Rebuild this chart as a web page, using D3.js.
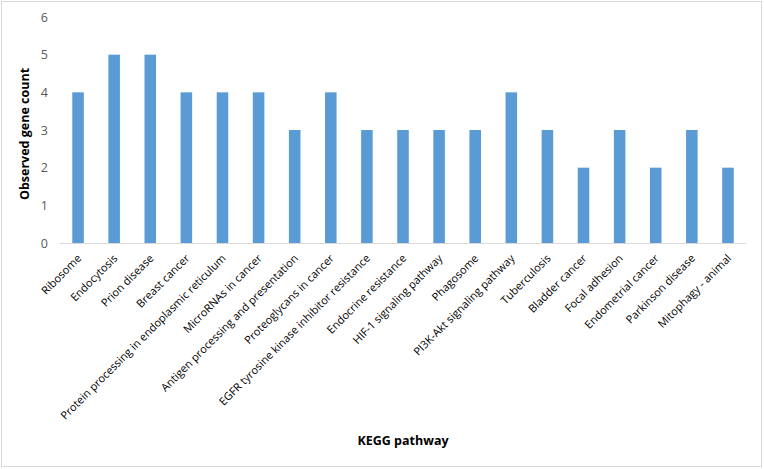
<!DOCTYPE html>
<html>
<head>
<meta charset="utf-8">
<script src="https://cdn.jsdelivr.net/npm/d3@7"></script>
<style>
  body { margin: 0; background: #fff; }
  text { font-family: "Open Sans", "Liberation Sans", sans-serif; }
</style>
</head>
<body>
<svg id="chart"></svg>
<script>
// KEGG pathways and how many observed genes fall in each
var pathways = ["Ribosome", "Endocytosis", "Prion disease", "Breast cancer",
  "Protein processing in endoplasmic reticulum", "MicroRNAs in cancer",
  "Antigen processing and presentation", "Proteoglycans in cancer",
  "EGFR tyrosine kinase inhibitor resistance", "Endocrine resistance",
  "HIF-1 signaling pathway", "Phagosome", "PI3K-Akt signaling pathway",
  "Tuberculosis", "Bladder cancer", "Focal adhesion", "Endometrial cancer",
  "Parkinson disease", "Mitophagy - animal"]
var geneCounts = [4, 5, 5, 4, 4, 4, 3, 4, 3, 3, 3, 3, 4, 3, 2, 3, 2, 3, 2]
var yTicks = [0, 1, 2, 3, 4, 5, 6]

var width = 764, height = 469
var plot = { left: 60, right: 746, top: 17, bottom: 243 }

var svg = d3.select("#chart")
  .attr("width", width)
  .attr("height", height)

// outer chart frame
svg.append("rect")
  .attr("x", 1.5).attr("y", 1.5)
  .attr("width", width - 4).attr("height", height - 4)
  .attr("fill", "#fff")
  .attr("stroke", "#d9d9d9")

var x = d3.scaleBand()
  .domain(pathways)
  .range([plot.left, plot.right])
  .paddingInner(0.68)
  .paddingOuter(0.34)

var y = d3.scaleLinear()
  .domain([0, 6])
  .range([plot.bottom, plot.top])

var data = pathways.map(function(p, i) { return { name: p, value: geneCounts[i] } })

svg.append("g")
  .selectAll("rect")
  .data(data)
  .enter()
  .append("rect")
  .attr("x", function(d) { return x(d.name) })
  .attr("y", function(d) { return y(d.value) })
  .attr("width", x.bandwidth())
  .attr("height", function(d) { return y(0) - y(d.value) })
  .attr("fill", "#5b9bd5")

// y axis: labels only, no line
var yAxis = svg.append("g")
  .attr("transform", "translate(" + (plot.left - 12) + ",0)")
  .call(d3.axisLeft(y).tickValues(yTicks).tickFormat(d3.format("d")).tickSize(0).tickPadding(0))
yAxis.select(".domain").remove()
yAxis.selectAll("text")
  .attr("fill", "#595959")
  .style("font-size", "12.5px")
  .style("font-family", "\"Open Sans\", sans-serif")

// x axis: baseline plus rotated category labels
var xAxis = svg.append("g")
  .attr("transform", "translate(0," + plot.bottom + ")")
  .call(d3.axisBottom(x).tickSize(0).tickPadding(0))
xAxis.select(".domain")
  .attr("stroke", "#d9d9d9")
  .attr("d", "M" + plot.left + ",0.5H" + plot.right)
xAxis.selectAll("text")
  .attr("fill", "#000")
  .style("font-size", "11px")
  .style("font-family", "\"Open Sans\", sans-serif")
  .attr("text-anchor", "end")
  .attr("dy", null)
  .attr("y", 0)
  .attr("transform", "translate(4,16) rotate(-45)")

// axis titles
svg.append("text")
  .attr("transform", "translate(29,134) rotate(-90)")
  .attr("text-anchor", "middle")
  .style("font-size", "12.5px")
  .style("font-weight", "bold")
  .text("Observed gene count")

svg.append("text")
  .attr("x", 403)
  .attr("y", 445)
  .attr("text-anchor", "middle")
  .style("font-size", "12.5px")
  .style("font-weight", "bold")
  .text("KEGG pathway")
</script>
</body>
</html>
